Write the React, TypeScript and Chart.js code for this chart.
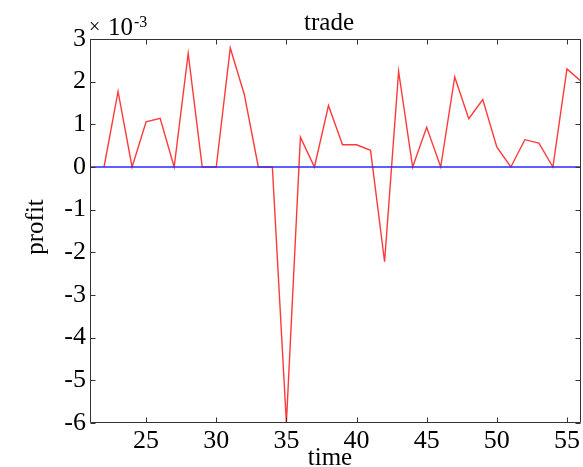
import React, { useEffect, useRef } from "react";
import { Chart, registerables } from "chart.js";

Chart.register(...registerables);

// time axis (x) and profit values in units of 10^-3
const times = [22, 23, 24, 25, 26, 27, 28, 29, 30, 31, 32, 33, 34, 35, 36, 37, 38, 39, 40, 41, 42, 43, 44, 45, 46, 47, 48, 49, 50, 51, 52, 53, 54, 55, 56];
const profit = [0, 1.77, 0, 1.06, 1.14, 0, 2.66, 0, 0, 2.79, 1.7, 0, 0, -6.0, 0.7, 0, 1.44, 0.52, 0.52, 0.39, -2.22, 2.24, 0, 0.93, 0, 2.11, 1.13, 1.58, 0.47, 0, 0.64, 0.56, 0, 2.3, 2.01];
const zeroTimes = [21, 56];
const zeroValues = [0, 0];
const xTicks = [25, 30, 35, 40, 45, 50, 55];
const yTicks = [-6, -5, -4, -3, -2, -1, 0, 1, 2, 3];
const yTickLabels = ["-6", "-5", "-4", "-3", "-2", "-1", "0", "1", "2", "3"];
const titleText = "trade";
const xLabel = "time";
const yLabel = "profit";
const exponentBase = "10";
const exponentPower = "-3";

const FONT = '"Liberation Serif", "Times New Roman", serif';

const framePlugin = {
  id: "frame",
  afterDraw(chart: any) {
    const { ctx, chartArea, scales } = chart;
    const { left, top, right, bottom } = chartArea;
    const xs = scales.x;
    const ys = scales.y;
    ctx.save();
    ctx.strokeStyle = "#333";
    ctx.lineWidth = 1;
    const L = Math.round(left) + 0.5;
    const R = Math.round(right) - 0.5;
    const T = Math.round(top) + 0.5;
    const B = Math.round(bottom) - 0.5;
    ctx.beginPath();
    ctx.rect(L, T, R - L, B - T);
    const tl = 5;
    xTicks.forEach((v) => {
      const px = Math.round(xs.getPixelForValue(v)) + 0.5;
      ctx.moveTo(px, B);
      ctx.lineTo(px, B - tl);
      ctx.moveTo(px, T);
      ctx.lineTo(px, T + tl);
    });
    yTicks.forEach((v) => {
      const py = Math.round(ys.getPixelForValue(v)) + 0.5;
      ctx.moveTo(L, py);
      ctx.lineTo(L + tl, py);
      ctx.moveTo(R, py);
      ctx.lineTo(R - tl, py);
    });
    ctx.stroke();

    ctx.fillStyle = "#000";
    ctx.textBaseline = "alphabetic";
    ctx.textAlign = "center";
    ctx.font = `25px ${FONT}`;
    ctx.fillText(titleText, 329, 30);
    ctx.fillText(xLabel, 330, 465);

    ctx.save();
    ctx.translate(43, 227);
    ctx.rotate(-Math.PI / 2);
    ctx.fillText(yLabel, 0, 0);
    ctx.restore();

    ctx.textAlign = "left";
    ctx.font = `20px ${FONT}`;
    ctx.fillText("\u00d7", 89, 33);
    ctx.font = `25px ${FONT}`;
    ctx.fillText(exponentBase, 108, 35);
    ctx.font = `16px ${FONT}`;
    ctx.fillText(exponentPower, 134, 27);
    ctx.restore();
  },
};

export default function App() {
  const ref = useRef<HTMLCanvasElement | null>(null);

  useEffect(() => {
    document.body.style.margin = "0";
    const canvas = ref.current;
    if (!canvas) return;
    const chart = new Chart(canvas, {
      type: "line",
      data: {
        datasets: [
          {
            label: "zero",
            data: zeroTimes.map((t, i) => ({ x: t, y: zeroValues[i] })),
            borderColor: "#2a2aff",
            borderWidth: 1.5,
            pointRadius: 0,
            tension: 0,
          },
          {
            label: "profit",
            data: times.map((t, i) => ({ x: t, y: profit[i] })),
            borderColor: "#ff3a3a",
            borderWidth: 1.4,
            pointRadius: 0,
            tension: 0,
          },
        ],
      },
      options: {
        responsive: false,
        animation: false,
        events: [],
        layout: { padding: { top: 39, left: 0, right: 2, bottom: 0 } },
        plugins: {
          legend: { display: false },
          tooltip: { enabled: false },
          title: { display: false },
        },
        scales: {
          x: {
            type: "linear",
            min: 21,
            max: 56,
            grid: { display: false, drawTicks: false },
            border: { display: false },
            ticks: {
              color: "#000",
              font: { family: FONT, size: 26 },
              padding: 3,
              autoSkip: false,
              maxRotation: 0,
              callback: (v: any) => String(v),
            },
            afterBuildTicks: (s: any) => {
              s.ticks = xTicks.map((v) => ({ value: v }));
            },
            afterFit: (s: any) => {
              s.height = 44;
            },
          },
          y: {
            type: "linear",
            min: -6,
            max: 3,
            grid: { display: false, drawTicks: false },
            border: { display: false },
            ticks: {
              color: "#000",
              font: { family: FONT, size: 26 },
              padding: 4,
              autoSkip: false,
              callback: (v: any) => {
                const i = yTicks.indexOf(Number(v));
                return i >= 0 ? yTickLabels[i] : "";
              },
            },
            afterBuildTicks: (s: any) => {
              s.ticks = yTicks.map((v) => ({ value: v }));
            },
            afterFit: (s: any) => {
              s.width = 90;
            },
          },
        },
      },
      plugins: [framePlugin],
    });
    return () => chart.destroy();
  }, []);

  return <canvas ref={ref} width={583} height={467} style={{ display: "block" }} />;
}
